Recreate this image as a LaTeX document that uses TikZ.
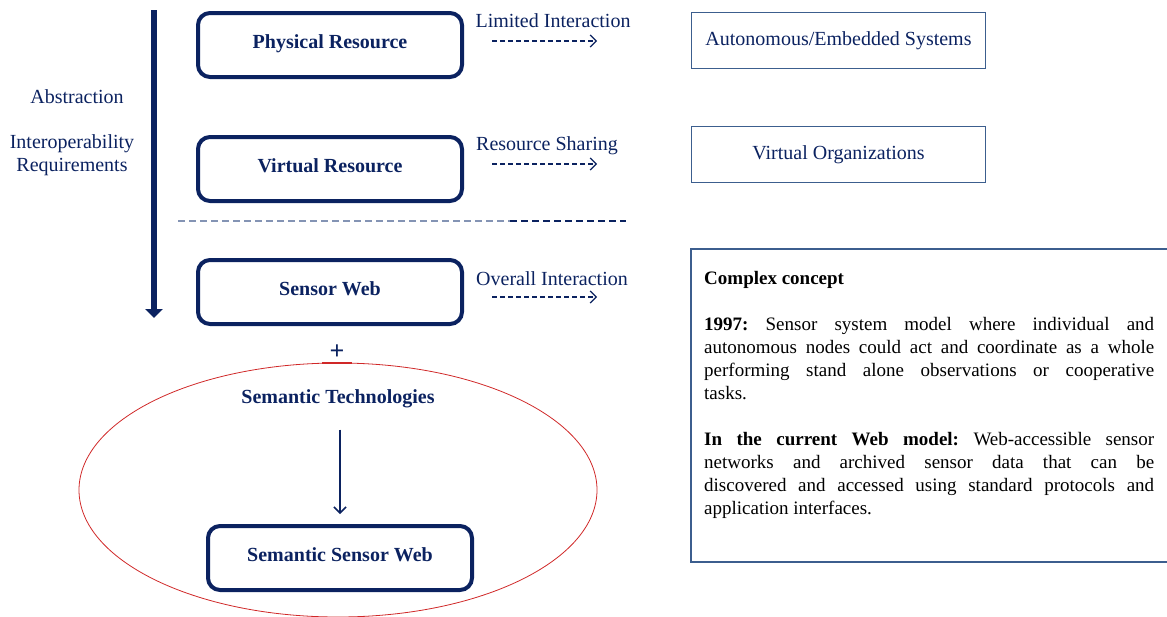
\documentclass[tikz,border=0pt]{standalone}
\usepackage{fontspec}
\setmainfont{Liberation Serif}
\usepackage{xcolor}
\usetikzlibrary{arrows.meta}
\definecolor{navy}{HTML}{0B2260}
\definecolor{frame}{HTML}{3C5E8E}
\definecolor{dashgray}{HTML}{8494B4}
\definecolor{ovalred}{HTML}{D02828}
\frenchspacing
\begin{document}
\begin{tikzpicture}[x=1pt,y=-1pt,>=Latex,font=\fontsize{20}{23}\selectfont,
  rbox/.style={draw=navy,line width=4pt,rounded corners=12pt,minimum width=264pt,minimum height=64pt,text=navy,text height=14pt,text depth=8pt,font=\fontsize{20}{23}\selectfont\bfseries},
  sbox/.style={draw=frame,line width=1.5pt,minimum width=294pt,minimum height=56pt,text=navy},
  dasharr/.style={navy,line width=1.2pt,dash pattern=on 5pt off 3pt,-{Straight Barb[length=6pt,width=12pt]}}]
  \useasboundingbox (0,0) rectangle (1167,616);
  \coordinate (abstop) at (154,10);
  \coordinate (absbot) at (154,318);
  \draw[navy,line width=6pt,-{Triangle[width=17pt,length=9pt]}] (abstop) -- (absbot);
  \node[text=navy] (abstr) at (77,97) {Abstraction};
  \node[text=navy,align=center] (interop) at (72,155) {Interoperability\\Requirements};
  \node[rbox] (phys) at (330,45) {Physical Resource};
  \node[rbox] (virt) at (330,169) {Virtual Resource};
  \node[rbox] (sweb) at (330,292) {Sensor Web};
  \node[sbox] (auto) at (838.5,40.5) {Autonomous/Embedded Systems};
  \node[sbox] (vorg) at (838.5,154.5) {Virtual Organizations};
  \node[text=navy] (limlab) at (553,21) {Limited Interaction};
  \node[text=navy] (shrlab) at (547,146) {Resource Sharing};
  \node[text=navy] (ovrlab) at (552,279) {Overall Interaction};
  \draw[dasharr] ([xshift=28pt,yshift=4pt]phys.east) -- ++(105,0);
  \draw[dasharr] ([xshift=28pt,yshift=5pt]virt.east) -- ++(105,0);
  \draw[dasharr] ([xshift=28pt,yshift=-5pt]sweb.east) -- ++(105,0);
  \draw[dashgray,line width=1.5pt,dash pattern=on 7pt off 4pt] (178,221) -- (510,221);
  \draw[navy,line width=1.5pt,dash pattern=on 7pt off 4pt] (510,221) -- (626,221);
  \draw[frame,line width=1.5pt] (1167,249) -- (691,249) -- (691,562) -- (1167,562);
  \node[anchor=north west,inner sep=0pt,text width=450pt,align=justify,font=\fontsize{19}{23}\selectfont] (concept) at (704,268)
    {\hyphenpenalty=10000\parindent=0pt\strut\textbf{Complex concept}\par\vspace{23pt}
     \textbf{1997:} Sensor system model where individual and\linebreak
     autonomous nodes could act and coordinate as a whole\linebreak
     performing stand alone observations or cooperative\linebreak
     tasks.\par\vspace{23pt}
     \textbf{In the current Web model:} Web-accessible sensor\linebreak
     networks and archived sensor data that can be\linebreak
     discovered and accessed using standard protocols and\linebreak
     application interfaces.\par};
  \node[text=navy,font=\fontsize{26}{26}\selectfont\bfseries] (plus) at (337,352) {+};
  \draw[ovalred,line width=0.8pt] (338,490) ellipse [x radius=259pt,y radius=127pt];
  \draw[ovalred,line width=2pt] (322,363.3) -- (352,363.3);
  \node[text=navy,font=\fontsize{20}{23}\selectfont\bfseries] (stech) at (338,399) {Semantic Technologies};
  \node[rbox] (ssw) at (340,558) {Semantic Sensor Web};
  \draw[navy,line width=1.5pt,-{Straight Barb[length=6pt,width=12pt]},shorten <=18pt,shorten >=10pt]
    (stech.south -| ssw.north) -- (ssw.north);
\end{tikzpicture}
\end{document}
